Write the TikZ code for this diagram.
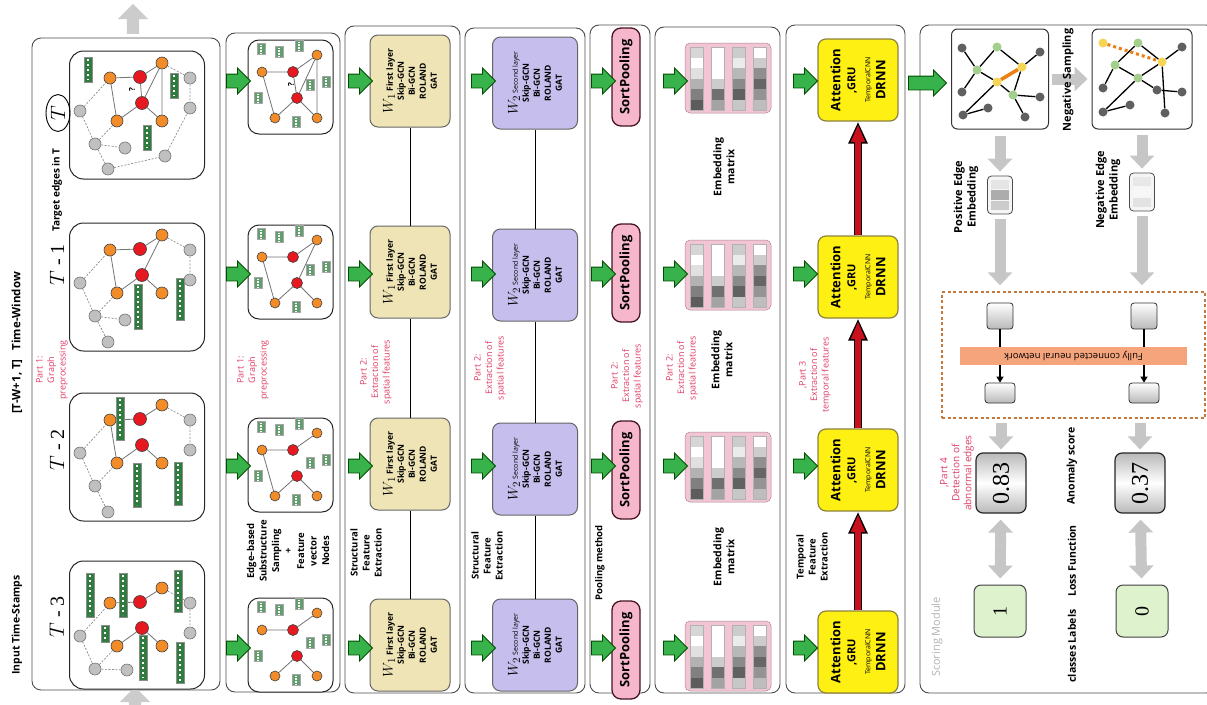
\documentclass[tikz,border=0pt]{standalone}
\usepackage{fontspec}
\usepackage{graphicx}
\setmainfont{Open Sans}
\newfontfamily\numfont{Liberation Serif}
\usetikzlibrary{shapes.arrows,shapes.geometric,arrows.meta}

\definecolor{nodeorange}{RGB}{242,140,40}
\definecolor{nodered}{RGB}{232,24,32}
\definecolor{nodegray}{RGB}{192,192,192}
\definecolor{vecgreen}{RGB}{46,125,62}
\definecolor{layertan}{RGB}{238,228,182}
\definecolor{layerlav}{RGB}{198,190,236}
\definecolor{poolpink}{RGB}{246,182,204}
\definecolor{poolrim}{RGB}{70,20,30}
\definecolor{matpink}{RGB}{242,196,212}
\definecolor{tempyellow}{RGB}{255,240,20}
\definecolor{temprim}{RGB}{140,130,60}
\definecolor{flowgreen}{RGB}{56,178,74}
\definecolor{flowred}{RGB}{200,16,30}
\definecolor{partred}{RGB}{222,60,100}
\definecolor{fcorange}{RGB}{246,164,124}
\definecolor{fcrim}{RGB}{196,120,60}
\definecolor{classgreen}{RGB}{222,242,206}
\definecolor{sggreen}{RGB}{164,206,140}
\definecolor{sgyellow}{RGB}{246,212,84}
\definecolor{sggray}{RGB}{96,96,96}

\tikzset{
  panel/.style={draw=black!70, line width=0.9pt, rounded corners=9pt},
  graphbox/.style={draw=black!85, line width=1pt, rounded corners=14pt, fill=white, minimum width=135pt, minimum height=128pt},
  subbox/.style={graphbox, rounded corners=11pt, minimum width=85pt, minimum height=94pt},
  onode/.style={circle, draw=black!75, line width=0.6pt, fill=nodeorange, minimum size=12pt, inner sep=0pt},
  rnode/.style={onode, fill=nodered, minimum size=13pt},
  gnode/.style={onode, fill=nodegray, draw=black!55},
  sonode/.style={onode, minimum size=10pt},
  srnode/.style={rnode, minimum size=11pt},
  sedge/.style={draw=black!55, line width=0.8pt},
  dedge/.style={draw=black!45, line width=0.7pt, dash pattern=on 2pt off 1.5pt},
  qmark/.style={rotate=90, inner sep=0pt, font=\bfseries\fontsize{8}{8}\selectfont},
  lab/.style={rotate=90, align=center, inner sep=0pt, font=\bfseries\fontsize{9.5}{12}\selectfont},
  slab/.style={lab, font=\bfseries\fontsize{10.5}{13}\selectfont},
  partlab/.style={rotate=90, align=center, inner sep=0pt, text=partred, font=\fontsize{9}{11.5}\selectfont},
  tlab/.style={rotate=90, inner sep=0pt, font=\numfont\fontsize{20}{22}\selectfont},
  flowarrow/.style={single arrow, draw=green!30!black, fill=flowgreen, line width=0.8pt, minimum height=24pt, single arrow head extend=6pt, single arrow head indent=0pt, inner xsep=0pt, inner ysep=6.5pt},
  slidearrow/.style={single arrow, shape border rotate=90, fill=gray!40, minimum height=30pt, single arrow head extend=9pt, single arrow head indent=0pt, inner xsep=6pt, inner ysep=0pt},
  layerone/.style={rotate=90, draw=black!60, fill=layertan, line width=1pt, rounded corners=8pt, minimum width=92pt, minimum height=80pt, align=center, inner sep=2pt, font=\bfseries\fontsize{8.5}{11}\selectfont},
  layertwo/.style={layerone, fill=layerlav, minimum height=85pt},
  poolpill/.style={rotate=90, draw=poolrim, fill=poolpink, line width=1.3pt, rounded corners=9pt, minimum width=98pt, minimum height=28pt, inner sep=0pt, font=\bfseries\fontsize{13}{14}\selectfont},
  tempbox/.style={rotate=90, draw=temprim, fill=tempyellow, line width=1.2pt, rounded corners=8pt, minimum width=82pt, minimum height=80pt, align=center, inner sep=0pt, font=\bfseries\fontsize{13}{15}\selectfont},
  grayarrow/.style={draw=gray!45, line width=11pt, -{Triangle[length=13pt, width=24pt]}},
  grayboth/.style={draw=gray!45, line width=11pt, {Triangle[length=13pt, width=24pt]}-{Triangle[length=13pt, width=24pt]}},
  sgbox/.style={draw=black!80, line width=1pt, rounded corners=6pt, fill=white, minimum width=97pt, minimum height=100pt},
  sgn/.style={circle, minimum size=9pt, inner sep=0pt},
  kedge/.style={draw=black, line width=1.3pt},
  embbox/.style={draw=black!70, line width=0.8pt, rounded corners=4pt, fill=gray!8, minimum width=25pt, minimum height=38pt, inner sep=0pt},
  fcunit/.style={draw=black!80, line width=0.8pt, rounded corners=3pt, top color=white, bottom color=gray!55, minimum width=26pt, minimum height=26pt, inner sep=0pt},
  fcline/.style={draw=black, line width=1.6pt},
  scorebox/.style={rotate=90, draw=black!85, line width=1.2pt, rounded corners=7pt, top color=gray!55, bottom color=gray!55, middle color=white, minimum width=60pt, minimum height=50pt, inner sep=0pt, font=\numfont\fontsize{24}{26}\selectfont},
  classbox/.style={rotate=90, draw=black!75, fill=classgreen, line width=1pt, rounded corners=7pt, minimum size=52pt, inner sep=0pt, font=\numfont\fontsize{20}{22}\selectfont},
  pics/fvec/.style={code={
    \draw[fill=vecgreen, draw=black!45, line width=0.5pt] (-4,0) rectangle (4,#1);
    \draw[white, line width=2.4pt, dash pattern=on 2.2pt off 2.8pt] (0,2) -- (0,#1-2);
  }},
  pics/ftile/.style={code={
    \draw[fill=vecgreen!75, draw=black!35, line width=0.4pt] (-4,-5.5) rectangle (4,5.5);
    \draw[white, line width=1.6pt, dash pattern=on 1.4pt off 1.4pt] (0,-4.5) -- (0,4.5);
  }},
  pics/snapgraph/.style={code={
    \node[onode] (-o1) at (40,27) {};
    \node[onode] (-o2) at (92,12) {};
    \node[onode] (-o3) at (47,70) {};
    \node[onode] (-o4) at (92,70) {};
    \node[rnode] (-r1) at (70,26) {};
    \node[rnode] (-r2) at (72,52) {};
    \node[gnode] (-g1) at (10,60) {};
    \node[gnode] (-g2) at (120,27) {};
    \node[gnode] (-g3) at (120,57) {};
    \node[gnode] (-g4) at (25,93) {};
    \draw[sedge] (-o1) -- (-r1) -- (-o2) (-r2) -- (-o3) (-r2) -- (-o4);
    \draw[dedge] (-g1) -- (-o1) (-g1) -- (-g4) -- (-o3) (-o2) -- (-g2) -- (-g3);
  }},
  pics/subgraph/.style={code={
    \foreach \tx/\ty in {13/9, 31/12, 51/6, 78/42, 10/58, 48/82, 62/45}
      \pic at (\tx,\ty) {ftile};
    \node[sonode] (-o1) at (14,32) {};
    \node[sonode] (-o2) at (69,15) {};
    \node[sonode] (-o3) at (27,78) {};
    \node[sonode] (-o4) at (69,78) {};
    \node[srnode] (-r1) at (45,32) {};
    \node[srnode] (-r2) at (49,58) {};
    \draw[sedge] (-o1) -- (-r1) -- (-o2) (-r2) -- (-o3) (-r2) -- (-o4);
  }},
  pics/embmat/.style={code={
    \draw[fill=matpink, draw=matpink!70!black, line width=0.5pt, rounded corners=5pt] (-43,-35) rectangle (43,35);
    \foreach \cx/\shades in {-31/{16,0,12,30,50,64}, -10/{0,0,0,20,56,36}, 11/{20,8,28,46,62,22}, 32/{0,20,44,60,42,26}} {
      \foreach \s [count=\j] in \shades
        \fill[black!\s!white] (\cx-6.5,-41.5+\j*10.5) rectangle (\cx+6.5,-31+\j*10.5);
      \draw[black!30, line width=0.4pt] (\cx-6.5,-31) rectangle (\cx+6.5,32);
    }
  }}
}

\begin{document}
\begin{tikzpicture}[x=1pt, y=-1pt]
\useasboundingbox (0,0) rectangle (1207,704);
\clip (0,0) rectangle (1207,704);

% panels of the pipeline
\foreach \xa/\ya/\xb/\yb in {32/38/220/690, 226/33/340/692, 345/26/460/693, 465/28/585/693, 590/25/650/693, 655/27/780/693, 786/25/905/693, 920/25/1215/693}
  \draw[panel] (\xa,\ya) rectangle (\xb,\yb);

% sliding time window
\node[slidearrow] (winout) at (133,22) {};
\node[slidearrow] (winin) at (135,705) {};

% input snapshots
\node[graphbox] (gbT) at (137,115) {};
\node[graphbox] (gb1) at (137,287) {};
\node[graphbox] (gb2) at (137,457) {};
\node[graphbox] (gb3) at (137,625) {};

\begin{scope}[shift={(70,51)}]
  \pic (gT) at (0,0) {snapgraph};
  \node[gnode] (gT-g5) at (55,97) {};
  \node[gnode] (gT-g6) at (38,118) {};
  \node[gnode] (gT-g7) at (95,105) {};
  \draw[sedge] (gT-o1) -- (gT-o3) (gT-r1) -- (gT-r2) (gT-r2) -- (gT-o2) -- (gT-o4);
  \draw[dedge] (gT-g4) -- (gT-g5) (gT-g4) -- (gT-g6) -- (gT-g7) -- (gT-g3);
  \node[qmark] at (62,39) {?};
  \pic at (18,6) {fvec=25};
  \pic at (104,22) {fvec=25};
  \pic at (77,74) {fvec=25};
\end{scope}

\begin{scope}[shift={(70,223)}]
  \pic (g1) at (0,0) {snapgraph};
  \node[gnode] (g1-g5) at (55,97) {};
  \node[gnode] (g1-g6) at (38,119) {};
  \draw[sedge] (g1-o1) -- (g1-o3) (g1-r2) -- (g1-o2);
  \draw[dedge] (g1-g4) -- (g1-g5) (g1-g4) -- (g1-g6);
  \pic at (68,61) {fvec=45};
  \pic at (110,55) {fvec=42};
\end{scope}

\begin{scope}[shift={(70,393)}]
  \pic (g2) at (0,0) {snapgraph};
  \node[gnode] (g2-g6) at (38,119) {};
  \draw[sedge] (g2-o1) -- (g2-o3);
  \draw[dedge] (g2-g4) -- (g2-g6);
  \pic at (50,4) {fvec=43};
  \pic at (67,70) {fvec=44};
  \pic at (108,69) {fvec=43};
\end{scope}

\begin{scope}[shift={(70,562)}]
  \pic (g3) at (0,14) {snapgraph};
  \node[gnode] (g3-g5) at (57,108) {};
  \draw[dedge] (g3-g4) -- (g3-g5);
  \pic at (20,11) {fvec=44};
  \pic at (53,11) {fvec=44};
  \pic at (108,8) {fvec=42};
  \pic at (35,63) {fvec=17};
  \pic at (73,73) {fvec=45};
  \pic at (110,80) {fvec=41};
\end{scope}

\node[lab, font=\bfseries\fontsize{11.5}{13}\selectfont] (twin) at (17,343) {[T-W+1, T]~~~Time-Window};
\node[lab, font=\bfseries\fontsize{10.5}{12}\selectfont] (tin) at (17,625) {Input Time-Stamps};
\node[lab, font=\bfseries\fontsize{10}{12}\selectfont] (ttarget) at (57,190) {Target edges in T};
\node[tlab, ellipse, draw, line width=0.9pt, minimum width=37pt, minimum height=24pt] (tnow) at (58,113) {$T$};
\node[tlab] (tm1) at (57,265) {$T$ - 1};
\node[tlab] (tm2) at (57,450) {$T$ - 2};
\node[tlab] (tm3) at (57,617) {$T$ - 3};
\node[partlab] (part1a) at (52,370) {Part 1:\\Graph\\preprocessing};

% edge-based substructure sampling
\node[subbox] (sb1) at (290.5,87) {};
\node[subbox] (sb2) at (290.5,272) {};
\node[subbox] (sb3) at (290.5,465) {};
\node[subbox] (sb4) at (290.5,645) {};
\pic (s1) at (248,40) {subgraph};
\pic (s2) at (248,225) {subgraph};
\pic (s3) at (248,418) {subgraph};
\pic (s4) at (248,598) {subgraph};
\draw[sedge] (s1-r1) -- (s1-r2) (s1-r2) -- (s1-o2) -- (s1-o4) (s1-o1) -- (s1-o3);
\draw[sedge] (s2-o1) -- (s2-o3) (s2-r2) -- (s2-o2);
\draw[sedge] (s3-o1) -- (s3-o3);
\node[qmark] at (291,85) {?};
\node[partlab] (part1b) at (253,370) {Part 1:\\Graph\\preprocessing};
\node[lab, font=\bfseries\fontsize{9.5}{12.5}\selectfont] (tsample) at (288,551) {Edge--based\\Substructure\\Sampling\\+\\Feature\\vector\\Nodes};

% first layer
\foreach \i/\yy in {1/81, 2/272, 3/464, 4/645}
  \node[layerone] (wa\i) at (410,\yy) {{\fontsize{15}{15}\selectfont$W_{1}$}~First layer\\Skip-GCN\\Bi-GCN\\ROLAND\\GAT};
\draw[line width=1pt] (wa1) -- (wa2) (wa2) -- (wa3) (wa3) -- (wa4);
\node[partlab] (part2a) at (376,372) {Part 2:\\Extraction of\\spatial features};
\node[lab] (tstruct1) at (366,553) {Structural\\Feature\\Extraction};

% second layer
\foreach \i/\yy in {1/83, 2/275, 3/469, 4/645}
  \node[layertwo] (wb\i) at (535,\yy) {{\fontsize{15}{15}\selectfont$W_{2}$}~{\mdseries\fontsize{7}{8}\selectfont Second layer}\\Skip-GCN\\Bi-GCN\\ROLAND\\GAT};
\draw[line width=1pt] (wb1) -- (wb2) (wb2) -- (wb3) (wb3) -- (wb4);
\node[partlab] (part2b) at (490,368) {Part 2:\\Extraction of\\spatial features};
\node[lab] (tstruct2) at (487,556) {Structural\\Feature\\Extraction};

% pooling
\foreach \i/\yy in {1/77, 2/273, 3/470, 4/650}
  \node[poolpill] (sp\i) at (626,\yy) {SortPooling};
\node[partlab] (part2c) at (627,376) {Part 2:\\Extraction of\\spatial features};
\node[lab] (tpool) at (600,563) {Pooling method};

% embedding matrices
\foreach \yy in {78, 275, 467, 656}
  \pic at (728,\yy) {embmat};
\node[lab, font=\bfseries\fontsize{10.5}{13}\selectfont] (tmat1) at (724,167) {Embedding\\matrix};
\node[lab, font=\bfseries\fontsize{10.5}{13}\selectfont] (tmat2) at (722,360) {Embedding\\matrix};
\node[lab, font=\bfseries\fontsize{10.5}{13}\selectfont] (tmat3) at (724,557) {Embedding\\matrix};
\node[partlab] (part2d) at (682,368) {Part 2:\\Extraction of\\spatial features};

% temporal feature extraction
\foreach \i/\yy in {1/80, 2/277, 3/470, 4/652}
  \node[tempbox] (tb\i) at (858,\yy) {Attention\\{\fontsize{11}{12}\selectfont ,GRU}\\{\fontsize{7}{8}\selectfont\mdseries TemporalCNN}\\DRNN};
\foreach \a/\b in {tb4/tb3, tb3/tb2, tb2/tb1} {
  \draw[line width=8pt, black, -{Triangle[length=22pt, width=18pt]}] (\a) -- (\b);
  \draw[line width=5.5pt, flowred, -{Triangle[length=18pt, width=13pt]}, shorten >=2.5pt] (\a) -- (\b);
}
\node[partlab] (part3) at (815,375) {,Part 3\\Extraction of\\temporal features};
\node[lab] (ttemp) at (812,557) {Temporal\\Feature\\Extraction};

% green flow arrows
\foreach \xx in {235, 357, 480, 600, 672, 802}
  \foreach \yy in {81, 274, 466, 648}
    \node[flowarrow] at (\xx,\yy) {};
\node[flowarrow, minimum height=38pt] (tomodule) at (924,83) {};

% scoring module
\node[sgbox] (sg1) at (1000,79) {};
\node[sgbox, minimum width=100pt] (sg2) at (1142,79) {};
\foreach \n/\px/\py/\col in {a1/962/48/sggray, a2/997/47/sggreen, a3/1040/52/sggray, a4/977/70/sggreen, a5/1022/67/sgyellow, a6/997/82/sgyellow, a7/962/92/sggray, a8/1013/95/sggreen, a9/1040/97/sggray, a10/988/108/sggray, a11/963/115/sggray, a12/1025/117/sggray, b1/1103/43/sgyellow, b2/1138/43/sggreen, b3/1182/47/sggray, b4/1162/62/sgyellow, b5/1115/65/sggreen, b6/1138/78/sggreen, b7/1103/88/sggray, b8/1157/90/sggray, b9/1182/92/sggray, b10/1130/105/sggray, b11/1103/112/sggray, b12/1165/113/sggray}
  \node[sgn, fill=\col] (\n) at (\px,\py) {};
\foreach \a/\b in {a1/a4, a2/a4, a2/a5, a3/a5, a4/a6, a6/a8, a5/a8, a8/a9, a4/a7, a6/a11, a10/a11, a8/a12, b2/b5, b2/b4, b3/b4, b5/b6, b6/b4, b6/b8, b8/b9, b4/b12, b6/b11, b10/b11, b5/b7}
  \draw[kedge] (\a) -- (\b);
\draw[draw=orange!70!brown, line width=3.5pt] (a5) -- (a6);
\draw[draw=orange!70!brown, line width=3pt, dash pattern=on 3pt off 3pt] (b1) -- (b4);

\draw[grayarrow, shorten <=3pt, shorten >=4pt] (sg1) -- (sg2);
\node[slab, font=\bfseries\fontsize{11}{13}\selectfont] (tneg) at (1068,80) {Negative Sampling};

\node[embbox] (pe) at (1000,195) {};
\node[embbox] (ne) at (1142,192) {};
\fill[gray!20] (pe.center) ++(-9,-15) rectangle ++(18,9);
\fill[gray!65] (pe.center) ++(-9,-5) rectangle ++(18,10);
\fill[gray!40] (pe.center) ++(-9,6) rectangle ++(18,9);
\fill[gray!18] (ne.center) ++(-9,-15) rectangle ++(18,9);
\fill[gray!6] (ne.center) ++(-9,-5) rectangle ++(18,10);
\fill[gray!22] (ne.center) ++(-9,6) rectangle ++(18,9);
\node[slab, font=\bfseries\fontsize{11}{13.5}\selectfont] (tpos) at (966,197) {Positive Edge\\Embedding};
\node[slab, font=\bfseries\fontsize{11}{13.5}\selectfont] (tnegemb) at (1108,190) {Negative Edge\\Embedding};
\draw[grayarrow, shorten <=6pt, shorten >=4pt] (sg1) -- (pe);
\draw[grayarrow, shorten <=5pt, shorten >=4pt] (sg2) -- (ne);

\node[draw=fcrim, line width=1.4pt, dash pattern=on 3pt off 2.5pt, minimum width=263pt, minimum height=126pt] (fcbox) at (1073.5,355) {};
\node[fill=fcorange, minimum width=227pt, minimum height=18pt, inner sep=0pt, font=\fontsize{9.5}{10}\selectfont] (fcbar) at (1073.5,356) {\rotatebox{180}{Fully connected neural network}};
\node[fcunit] (sq1) at (1000,316) {};
\node[fcunit] (sq2) at (1144,316) {};
\node[fcunit, minimum width=30pt, minimum height=20pt] (sq3) at (1000,393) {};
\node[fcunit, minimum width=30pt, minimum height=20pt] (sq4) at (1144,393) {};
\draw[fcline] (sq1.south) -- (sq1.south |- fcbar.north);
\draw[fcline] (sq2.south) -- (sq2.south |- fcbar.north);
\draw[fcline, -{Triangle[length=6pt, width=7pt]}] (sq3.north |- fcbar.south) -- (sq3.north);
\draw[fcline, -{Triangle[length=6pt, width=7pt]}] (sq4.north |- fcbar.south) -- (sq4.north);
\draw[grayarrow, shorten <=5pt, shorten >=6pt] (pe.south) -- (pe.south |- fcbox.north);
\draw[grayarrow, shorten <=5pt, shorten >=6pt] (ne.south) -- (ne.south |- fcbox.north);

\node[scorebox] (sc1) at (1001,483) {0.83};
\node[scorebox] (sc2) at (1140,483) {0.37};
\node[classbox] (cl1) at (1000,611) {1};
\node[classbox] (cl2) at (1142,611) {0};
\draw[grayarrow, shorten <=4pt, shorten >=3pt] (sc1 |- fcbox.south) -- (sc1);
\draw[grayarrow, shorten <=4pt, shorten >=3pt] (sc2 |- fcbox.south) -- (sc2);
\draw[grayboth, shorten <=6pt, shorten >=6pt] (sc1) -- (cl1);
\draw[grayboth, shorten <=6pt, shorten >=6pt] (sc2) -- (cl2);

\node[slab] (tscore) at (1072,466) {Anomaly score};
\node[slab] (tloss) at (1072,561) {Loss Function};
\node[slab] (tclass) at (1072,646) {classes Labels};
\node[slab, font=\fontsize{11}{13}\selectfont, text=gray!60] (tmodule) at (937,637) {Scoring Module};
\node[partlab, font=\fontsize{10}{12}\selectfont] (part4) at (957,473) {,Part 4\\Detection of\\abnormal edges};

\end{tikzpicture}
\end{document}
